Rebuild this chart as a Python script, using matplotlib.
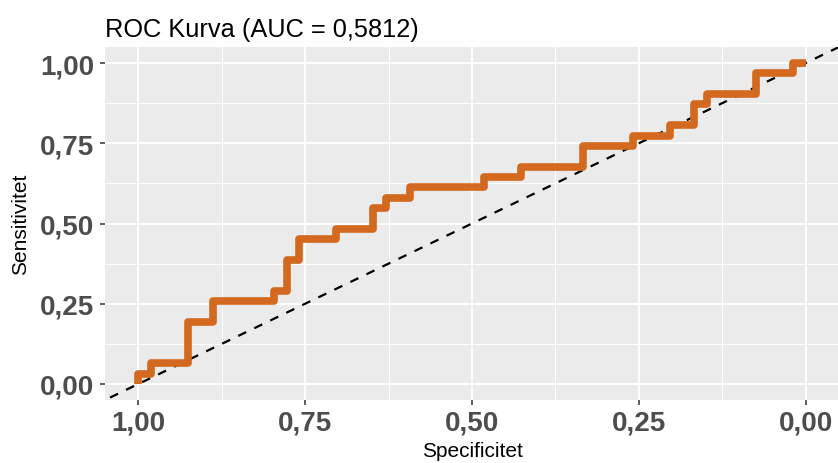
import numpy as np
import matplotlib
matplotlib.use("Agg")
import matplotlib.pyplot as plt

plt.rcParams['font.family'] = ['Liberation Sans', 'DejaVu Sans']

# antal kontroller / fall
n_kontroller = 54
n_fall = 31

# hörnpunkter i ROC-kurvan (täljare)
spec_k = [54, 54, 53, 53, 50, 50, 48, 48, 43, 43, 42, 42, 41, 41, 38, 38, 35, 35, 34, 34,
          32, 32, 26, 26, 23, 23, 18, 18, 14, 14, 11, 11, 9, 9, 8, 8, 4, 4, 1, 1, 0]
sens_k = [0, 1, 1, 2, 2, 6, 6, 8, 8, 9, 9, 12, 12, 14, 14, 15, 15, 17, 17, 18,
          18, 19, 19, 20, 20, 21, 21, 23, 23, 24, 24, 25, 25, 27, 27, 28, 28, 30, 30, 31, 31]

specificitet = np.array(spec_k) / n_kontroller
sensitivitet = np.array(sens_k) / n_fall

ticks = [1.0, 0.75, 0.5, 0.25, 0.0]
tick_labels = ['1,00', '0,75', '0,50', '0,25', '0,00']
titel = 'ROC Kurva (AUC = 0,5812)'

W, H = 838, 464
fig = plt.figure(figsize=(W / 100, H / 100), dpi=100)
ax = fig.add_axes([105 / W, 1 - 401 / H, (839 - 105) / W, (401 - 48) / H])
ax.set_facecolor('#EBEBEB')
for s in ax.spines.values():
    s.set_visible(False)

ax.set_xlim(1.05, -0.05)
ax.set_ylim(-0.05, 1.05)

ax.set_xticks(ticks)
ax.set_xticklabels(tick_labels)
ax.set_yticks(ticks)
ax.set_yticklabels(tick_labels)
ax.set_xticks([0.875, 0.625, 0.375, 0.125], minor=True)
ax.set_yticks([0.875, 0.625, 0.375, 0.125], minor=True)

ax.grid(True, which='major', color='white', linewidth=1.4)
ax.grid(True, which='minor', color='white', linewidth=0.7)
ax.set_axisbelow(True)

ax.tick_params(which='major', length=3.6, width=1.1, color='#333333',
               labelsize=20, labelcolor='#4D4D4D')
ax.tick_params(axis='x', which='major', pad=3)
ax.tick_params(axis='y', which='major', pad=4.3)
ax.tick_params(which='minor', length=0)
for lab in ax.get_xticklabels() + ax.get_yticklabels():
    lab.set_fontweight('bold')

# diagonal
ax.axline((1, 0), (0, 1), color='black', linewidth=1.6, linestyle=(0, (4, 4)), zorder=2)

# ROC-kurva
ax.plot(specificitet, sensitivitet, color='#D2691E', linewidth=5.5,
        solid_capstyle='butt', solid_joinstyle='round', zorder=3)

ax.set_xlabel('Specificitet', fontsize=15, labelpad=4.5)
ax.set_ylabel('Sensitivitet', fontsize=15, labelpad=7)
ax.set_title(titel, loc='left', fontsize=18.3, pad=8)

fig.savefig('out.png', dpi=100)
